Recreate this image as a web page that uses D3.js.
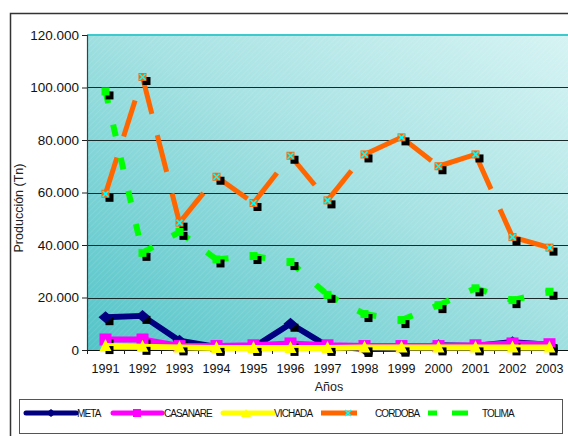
<!DOCTYPE html>
<html><head><meta charset="utf-8">
<script src="https://cdn.jsdelivr.net/npm/d3@7"></script>
<style>body{margin:0;background:#fff}svg{display:block;font-family:"Liberation Sans",Arial,sans-serif}</style>
</head><body><svg id="c" width="568" height="436"></svg>
<script>
const years = ["1991","1992","1993","1994","1995","1996","1997","1998","1999","2000","2001","2002","2003"];
const meta = [12500,13000,3500,1200,1000,10000,1500,400,500,1800,1500,3000,2000];
const casanare = [4000,4000,1500,1500,1800,2500,1800,1500,1500,1500,1800,2500,2200];
const vichada = [1500,1200,1000,800,800,800,800,1000,1000,1000,1000,1000,1000];
const cordoba = [59500,104000,48500,66000,56000,74000,57000,74500,81000,70000,74500,43000,39000];
const tolima = [98500,37000,45000,34500,35800,33500,21000,13700,11400,17100,23500,19000,22200];
const yTicks = [0,20000,40000,60000,80000,100000,120000];
const seriesNames = ["META","CASANARE","VICHADA","CORDOBA","TOLIMA"];

const svg = d3.select("#c");
const L=87, R=568, T=35, B=350;
const x = d3.scaleBand().domain(years).range([L,R]).padding(0);
const y = d3.scaleLinear().domain([0,120000]).range([B,T]);
const cx = d => x(d)+x.bandwidth()/2;
const fmt = v => d3.format(",")(v).replace(/,/g,".");

svg.append("path").attr("d","M10.5,436 V13.5 H568").attr("fill","none").attr("stroke","#333").attr("stroke-width",1.5);

const defs = svg.append("defs");
const g = defs.append("linearGradient").attr("id","bg").attr("x1","0").attr("y1","1").attr("x2","1").attr("y2","0");
g.append("stop").attr("offset","0").attr("stop-color","#52c4c8");
g.append("stop").attr("offset","0.55").attr("stop-color","#a6e2e3");
g.append("stop").attr("offset","1").attr("stop-color","#d6f3f3");
const p = defs.append("pattern").attr("id","hatch").attr("width",4).attr("height",4).attr("patternUnits","userSpaceOnUse").attr("patternTransform","rotate(45)");
p.append("line").attr("x1",0).attr("y1",0).attr("x2",0).attr("y2",4).attr("stroke","#fff").attr("stroke-opacity",0.18).attr("stroke-width",1);

svg.append("rect").attr("x",L).attr("y",T).attr("width",R-L).attr("height",B-T).attr("fill","url(#bg)");
svg.append("rect").attr("x",L).attr("y",T).attr("width",R-L).attr("height",B-T).attr("fill","url(#hatch)");

svg.append("g").selectAll("line").data(yTicks.filter(v=>v>0&&v<120000)).join("line")
  .attr("x1",L).attr("x2",R).attr("y1",d=>Math.round(y(d))+0.5).attr("y2",d=>Math.round(y(d))+0.5)
  .attr("stroke","#1a2a2a").attr("stroke-width",1);
svg.append("line").attr("x1",L).attr("x2",R).attr("y1",T).attr("y2",T).attr("stroke","#3ec9cc").attr("stroke-width",2);

const ya = svg.append("g").attr("transform",`translate(${L},0)`)
  .call(d3.axisLeft(y).tickValues(yTicks).tickFormat(fmt).tickSize(5).tickPadding(3));
ya.select(".domain").attr("stroke","#1e4d4d").attr("stroke-width",1.2);
ya.selectAll("text").attr("font-size",13.5).attr("fill","#111").style("font-family","'Liberation Sans', Arial, sans-serif");
ya.selectAll(".tick line").attr("stroke","#222");

const xa = svg.append("g").attr("transform",`translate(0,${B})`)
  .call(d3.axisBottom(x).tickSize(0).tickPadding(14));
xa.select(".domain").attr("stroke","#111").attr("stroke-width",1.2);
xa.selectAll("text").attr("font-size",12.5).attr("fill","#111").style("font-family","'Liberation Sans', Arial, sans-serif");
svg.append("g").selectAll("line").data(years).join("line")
  .attr("x1",d=>x(d)+0.5).attr("x2",d=>x(d)+0.5).attr("y1",B).attr("y2",B+4).attr("stroke","#222");

svg.append("text").attr("x",329).attr("y",391).attr("text-anchor","middle").attr("font-size",12.5).attr("fill","#222").text("Años");
svg.append("text").attr("transform","translate(23,208) rotate(-90)").attr("text-anchor","middle").attr("font-size",12.5).attr("fill","#222").text("Producción (Tn)");

const clipG = svg.append("g");
const pts = arr => arr.map((v,i)=>[cx(years[i]),y(v)]);
const line = d3.line();

function shadows(arr, size){
  clipG.append("g").selectAll("rect").data(pts(arr)).join("rect")
    .attr("x",d=>d[0]-size/2+4).attr("y",d=>d[1]-size/2+4).attr("width",size).attr("height",size).attr("fill","#000");
}

clipG.append("path").attr("d",line(pts(meta))).attr("fill","none").attr("stroke","#000080").attr("stroke-width",6).attr("stroke-linejoin","round");
shadows(meta,8);
clipG.append("g").selectAll("path").data(pts(meta)).join("path")
  .attr("d",d=>`M${d[0]-7},${d[1]} L${d[0]},${d[1]-6} L${d[0]+7},${d[1]} L${d[0]},${d[1]+6}Z`).attr("fill","#000080");

clipG.append("path").attr("d",line(pts(casanare))).attr("fill","none").attr("stroke","#ff00ff").attr("stroke-width",6);
shadows(casanare,8);
clipG.append("g").selectAll("rect").data(pts(casanare)).join("rect")
  .attr("x",d=>d[0]-6).attr("y",d=>d[1]-6).attr("width",12).attr("height",12).attr("fill","#ff00ff");

clipG.append("path").attr("d",line(pts(vichada))).attr("fill","none").attr("stroke","#ffff00").attr("stroke-width",6);
shadows(vichada,8);
clipG.append("g").selectAll("path").data(pts(vichada)).join("path")
  .attr("d",d=>`M${d[0]},${d[1]-7} L${d[0]+6},${d[1]+5} L${d[0]-6},${d[1]+5}Z`).attr("fill","#ffff00");

clipG.append("g").selectAll("path").data(d3.pairs(pts(cordoba))).join("path")
  .attr("d",d=>line(d)).attr("fill","none").attr("stroke","#ff6600").attr("stroke-width",5).attr("stroke-dasharray","38,22");
shadows(cordoba,8);
const cm = clipG.append("g").selectAll("g").data(pts(cordoba)).join("g").attr("transform",d=>`translate(${d[0]},${d[1]})`);
cm.append("rect").attr("x",-4).attr("y",-4).attr("width",8).attr("height",8).attr("fill","#ff6600");
cm.append("path").attr("d","M-3,-3L3,3M3,-3L-3,3").attr("stroke","#00ffff").attr("stroke-width",1.6);

clipG.append("g").selectAll("path").data(d3.pairs(pts(tolima))).join("path")
  .attr("d",d=>line(d)).attr("fill","none").attr("stroke","#00ff00").attr("stroke-width",6).attr("stroke-dasharray","12,22");
shadows(tolima,8);
clipG.append("g").selectAll("rect").data(pts(tolima)).join("rect")
  .attr("x",d=>d[0]-4).attr("y",d=>d[1]-4).attr("width",8).attr("height",8).attr("fill","#00ff00");

svg.append("rect").attr("x",19.5).attr("y",399.5).attr("width",543).attr("height",34).attr("fill","#fff").attr("stroke","#555").attr("stroke-width",1);
const ly = 413;
const leg = svg.append("g").attr("font-size",10).attr("fill","#111").attr("letter-spacing","-0.9");
leg.append("line").attr("x1",26).attr("x2",76).attr("y1",ly).attr("y2",ly).attr("stroke","#000080").attr("stroke-width",5).attr("stroke-linecap","round");
leg.append("path").attr("d",`M46,${ly} L51,${ly-4} L56,${ly} L51,${ly+4}Z`).attr("fill","#000080");
leg.append("text").attr("x",77).attr("y",ly+4).text(seriesNames[0]);
leg.append("line").attr("x1",113).attr("x2",162).attr("y1",ly).attr("y2",ly).attr("stroke","#ff00ff").attr("stroke-width",5).attr("stroke-linecap","round");
leg.append("rect").attr("x",133).attr("y",ly-4).attr("width",8).attr("height",8).attr("fill","#ff00ff");
leg.append("text").attr("x",164).attr("y",ly+4).text(seriesNames[1]);
leg.append("line").attr("x1",223).attr("x2",273).attr("y1",ly).attr("y2",ly).attr("stroke","#ffff00").attr("stroke-width",5).attr("stroke-linecap","round");
leg.append("path").attr("d",`M246,${ly-4} L251,${ly+4} L241,${ly+4}Z`).attr("fill","#ffff00");
leg.append("text").attr("x",274).attr("y",ly+4).text(seriesNames[2]);
leg.append("line").attr("x1",321).attr("x2",357).attr("y1",ly).attr("y2",ly).attr("stroke","#ff6600").attr("stroke-width",5);
leg.append("path").attr("d",`M345,${ly-3}L351,${ly+3}M351,${ly-3}L345,${ly+3}`).attr("stroke","#00ffff").attr("stroke-width",1.6);
leg.append("text").attr("x",375).attr("y",ly+4).text(seriesNames[3]);
leg.append("line").attr("x1",428).attr("x2",437).attr("y1",ly).attr("y2",ly).attr("stroke","#00ff00").attr("stroke-width",5);
leg.append("line").attr("x1",452).attr("x2",468).attr("y1",ly).attr("y2",ly).attr("stroke","#00ff00").attr("stroke-width",5);
leg.append("text").attr("x",482).attr("y",ly+4).text(seriesNames[4]);
</script></body></html>
